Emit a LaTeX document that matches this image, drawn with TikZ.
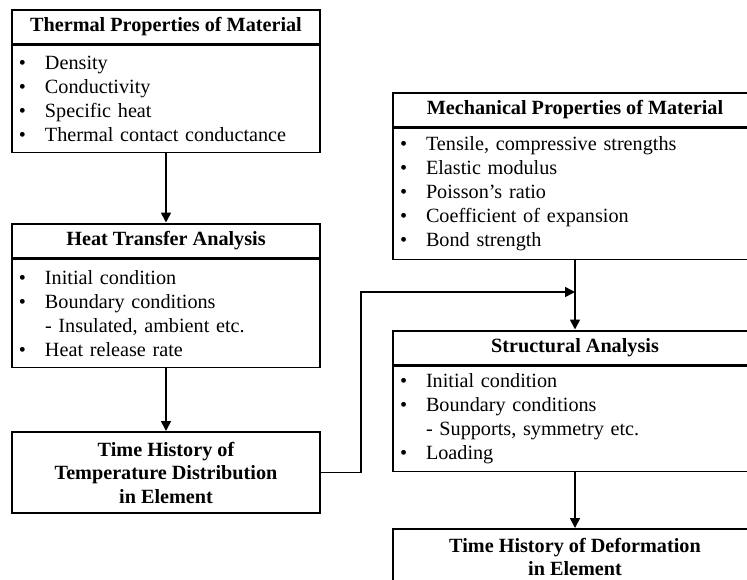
\documentclass[tikz,border=0pt]{standalone}
\usepackage{fontspec}
\setmainfont{Liberation Serif}
\usetikzlibrary{positioning,arrows.meta}

\tikzset{
  headbox/.style={draw, line width=2pt, inner sep=0pt, minimum height=34pt,
    font=\fontsize{20.2}{24}\selectfont\bfseries},
  listbox/.style={draw, line width=1.2pt, align=left, inner xsep=7pt, inner ysep=0pt,
    font=\fontsize{20.2}{24}\selectfont},
  resultbox/.style={draw, line width=2pt, align=center, inner sep=0pt,
    font=\fontsize{20.2}{23.5}\selectfont\bfseries},
  flow/.style={line width=1.6pt, -{Triangle[length=10pt,width=10pt]}}
}
\newcommand{\itm}{\makebox[26pt][l]{\textbullet}}
\newcommand{\subitm}{\hspace*{26pt}}

\begin{document}
\begin{tikzpicture}[x=1pt, y=-1pt]
\clip (0,0) rectangle (747,579);

% left column
\node[headbox, minimum width=308pt] (thermal) at (166,26.5) {Thermal Properties of Material};
\node[listbox, text width=294pt, minimum height=107pt, below=0pt of thermal] (thermalbody)
  {\itm Density\\ \itm Conductivity\\ \itm Specific heat\\ \itm Thermal contact conductance};

\node[headbox, minimum width=308pt] (heat) at (166,240.5) {Heat Transfer Analysis};
\node[listbox, text width=294pt, minimum height=108pt, below=0pt of heat] (heatbody)
  {\itm Initial condition\\ \itm Boundary conditions\\ \subitm - Insulated, ambient etc.\\ \itm Heat release rate};

\node[resultbox, minimum width=308pt, minimum height=81pt] (temphist) at (166,472.5)
  {Time History of\\ Temperature Distribution\\ in Element};

% right column
\node[headbox, minimum width=364pt] (mech) at (575,110) {Mechanical Properties of Material};
\node[listbox, text width=350pt, minimum height=131pt, below=0pt of mech] (mechbody)
  {\itm Tensile, compressive strengths\\ \itm Elastic modulus\\ \itm Poisson’s ratio\\
   \itm Coefficient of expansion\\ \itm Bond strength};

\node[headbox, minimum width=364pt] (struct) at (575,347.5) {Structural Analysis};
\node[listbox, text width=350pt, minimum height=105pt, below=0pt of struct] (structbody)
  {\itm Initial condition\\ \itm Boundary conditions\\ \subitm - Supports, symmetry etc.\\ \itm Loading};

\node[resultbox, minimum width=364pt, minimum height=56pt, anchor=north] (defhist) at (575,528)
  {Time History of Deformation\\ in Element};

% connectors
\coordinate (merge) at (575,292);
\draw[flow] (thermalbody) -- (heat);
\draw[flow] (heatbody) -- (temphist);
\draw[flow] (mechbody) -- (struct);
\draw[flow] (temphist.east) -- ++(40,0) |- (merge);
\draw[flow] (structbody) -- (defhist);
\end{tikzpicture}
\end{document}
